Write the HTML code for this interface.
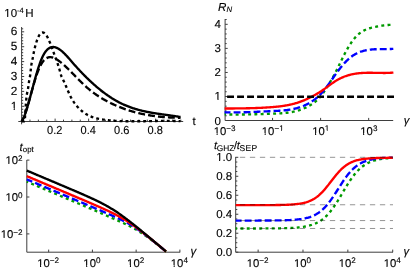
<!DOCTYPE html>
<html><head><meta charset="utf-8"><title>plots</title>
<style>
html,body{margin:0;padding:0;background:#fff;}
text{stroke:#000;stroke-width:0.12px;}
svg{display:block;font-family:"Liberation Sans",sans-serif;will-change:transform;text-rendering:geometricPrecision;}
</style></head>
<body>
<svg width="411" height="274" viewBox="0 0 411 274">
<rect width="411" height="274" fill="#fff"/>
<text x="17.30" y="109.70" font-size="11.8" text-anchor="end" fill="#000">1</text>
<text x="17.30" y="94.80" font-size="11.8" text-anchor="end" fill="#000">2</text>
<text x="17.30" y="79.90" font-size="11.8" text-anchor="end" fill="#000">3</text>
<text x="17.30" y="65.00" font-size="11.8" text-anchor="end" fill="#000">4</text>
<text x="17.30" y="50.10" font-size="11.8" text-anchor="end" fill="#000">5</text>
<text x="17.30" y="35.20" font-size="11.8" text-anchor="end" fill="#000">6</text>
<text transform="translate(54.72,134.40) scale(0.95,1)" font-size="11.6" text-anchor="middle" fill="#000">0.2</text>
<text transform="translate(88.24,134.40) scale(0.95,1)" font-size="11.6" text-anchor="middle" fill="#000">0.4</text>
<text transform="translate(121.76,134.40) scale(0.95,1)" font-size="11.6" text-anchor="middle" fill="#000">0.6</text>
<text transform="translate(155.28,134.40) scale(0.95,1)" font-size="11.6" text-anchor="middle" fill="#000">0.8</text>
<text x="192.60" y="125.20" font-size="11.5" text-anchor="start" fill="#000">t</text>
<text x="4.3" y="17.2" font-size="11.5" fill="#000">10<tspan font-size="7.6" dy="-4">-4</tspan><tspan dy="4" dx="1.4">H</tspan></text>
<text x="221.00" y="124.50" font-size="11.5" text-anchor="end" fill="#000">0</text>
<text x="221.00" y="100.43" font-size="11.5" text-anchor="end" fill="#000">1</text>
<text x="221.00" y="76.36" font-size="11.5" text-anchor="end" fill="#000">2</text>
<text x="221.00" y="52.29" font-size="11.5" text-anchor="end" fill="#000">3</text>
<text x="221.00" y="28.22" font-size="11.5" text-anchor="end" fill="#000">4</text>
<text x="224.70" y="134.80" font-size="11.3" text-anchor="middle" fill="#000">10<tspan font-size="8.14" dy="-3.6">−3</tspan></text>
<text x="272.76" y="134.80" font-size="11.3" text-anchor="middle" fill="#000">10<tspan font-size="8.14" dy="-3.6">−1</tspan></text>
<text x="320.82" y="134.80" font-size="11.3" text-anchor="middle" fill="#000">10<tspan font-size="8.14" dy="-3.6">1</tspan></text>
<text x="368.88" y="134.80" font-size="11.3" text-anchor="middle" fill="#000">10<tspan font-size="8.14" dy="-3.6">3</tspan></text>
<text x="218.0" y="10.6" font-size="11.6" font-style="italic" fill="#000">R<tspan font-size="7.8" dy="1.7">N</tspan></text>
<text x="403.80" y="123.60" font-size="11.3" text-anchor="start" font-style="italic" fill="#000">γ</text>
<text x="22.60" y="238.10" font-size="11.3" text-anchor="end" fill="#000">10<tspan font-size="8.14" dy="-3.6">−2</tspan></text>
<text x="22.60" y="201.20" font-size="11.3" text-anchor="end" fill="#000">10<tspan font-size="8.14" dy="-3.6">0</tspan></text>
<text x="22.60" y="164.30" font-size="11.3" text-anchor="end" fill="#000">10<tspan font-size="8.14" dy="-3.6">2</tspan></text>
<text x="48.17" y="266.80" font-size="11.3" text-anchor="middle" fill="#000">10<tspan font-size="8.14" dy="-3.6">−2</tspan></text>
<text x="91.91" y="266.80" font-size="11.3" text-anchor="middle" fill="#000">10<tspan font-size="8.14" dy="-3.6">0</tspan></text>
<text x="135.65" y="266.80" font-size="11.3" text-anchor="middle" fill="#000">10<tspan font-size="8.14" dy="-3.6">2</tspan></text>
<text x="179.39" y="266.80" font-size="11.3" text-anchor="middle" fill="#000">10<tspan font-size="8.14" dy="-3.6">4</tspan></text>
<text x="19.6" y="150.8" font-size="11.6" font-style="italic" fill="#000">t<tspan font-size="7.9" font-style="normal" dy="1.6">opt</tspan></text>
<text x="190.60" y="255.40" font-size="11.5" text-anchor="start" font-style="italic" fill="#000">γ</text>
<text x="257.63" y="267.00" font-size="11.3" text-anchor="middle" fill="#000">10<tspan font-size="8.14" dy="-3.6">−2</tspan></text>
<text x="302.49" y="267.00" font-size="11.3" text-anchor="middle" fill="#000">10<tspan font-size="8.14" dy="-3.6">0</tspan></text>
<text x="347.35" y="267.00" font-size="11.3" text-anchor="middle" fill="#000">10<tspan font-size="8.14" dy="-3.6">2</tspan></text>
<text x="392.21" y="267.00" font-size="11.3" text-anchor="middle" fill="#000">10<tspan font-size="8.14" dy="-3.6">4</tspan></text>
<text x="232.20" y="256.00" font-size="11.5" text-anchor="end" fill="#000">0.0</text>
<text x="232.20" y="237.02" font-size="11.5" text-anchor="end" fill="#000">0.2</text>
<text x="232.20" y="218.04" font-size="11.5" text-anchor="end" fill="#000">0.4</text>
<text x="232.20" y="199.06" font-size="11.5" text-anchor="end" fill="#000">0.6</text>
<text x="232.20" y="180.08" font-size="11.5" text-anchor="end" fill="#000">0.8</text>
<text x="232.20" y="161.10" font-size="11.5" text-anchor="end" fill="#000">1.0</text>
<text x="214" y="149.3" font-size="11" font-style="italic" fill="#000">t<tspan font-size="8.3" font-style="normal" dy="1.5" dx="-0.2">GHZ</tspan><tspan dy="-1.5" dx="-0.5" font-style="normal">/</tspan><tspan dx="-0.3">t</tspan><tspan font-size="8.5" font-style="normal" dy="1.5" dx="-0.3" letter-spacing="0.35">SEP</tspan></text>
<text x="403.60" y="255.30" font-size="11.3" text-anchor="start" font-style="italic" fill="#000">γ</text>
<rect x="11.00" y="108" width="2.63" height="2" fill="#fff"/>
<rect x="14.82" y="108" width="2.18" height="2" fill="#fff"/>
<rect x="5.00" y="16" width="2.12" height="2" fill="#fff"/>
<rect x="8.28" y="16" width="2.72" height="2" fill="#fff"/>
<rect x="215.00" y="99" width="2.43" height="2" fill="#fff"/>
<rect x="218.58" y="99" width="2.42" height="2" fill="#fff"/>
<rect x="214.00" y="133" width="2.55" height="2" fill="#fff"/>
<rect x="217.69" y="133" width="2.31" height="2" fill="#fff"/>
<rect x="262.00" y="133" width="2.61" height="2" fill="#fff"/>
<rect x="265.75" y="133" width="2.25" height="2" fill="#fff"/>
<rect x="279.00" y="130" width="2.16" height="2" fill="#fff"/>
<rect x="281.97" y="130" width="2.03" height="2" fill="#fff"/>
<rect x="312.00" y="133" width="3.05" height="2" fill="#fff"/>
<rect x="316.18" y="133" width="2.82" height="2" fill="#fff"/>
<rect x="325.00" y="130" width="1.84" height="2" fill="#fff"/>
<rect x="327.66" y="130" width="2.34" height="2" fill="#fff"/>
<rect x="361.00" y="133" width="2.11" height="2" fill="#fff"/>
<rect x="364.24" y="133" width="2.76" height="2" fill="#fff"/>
<rect x="1.00" y="237" width="2.53" height="2" fill="#fff"/>
<rect x="4.66" y="237" width="2.34" height="2" fill="#fff"/>
<rect x="6.00" y="200" width="2.28" height="2" fill="#fff"/>
<rect x="9.42" y="200" width="2.58" height="2" fill="#fff"/>
<rect x="6.00" y="163" width="2.28" height="2" fill="#fff"/>
<rect x="9.42" y="163" width="2.58" height="2" fill="#fff"/>
<rect x="37.00" y="265" width="3.02" height="2" fill="#fff"/>
<rect x="41.16" y="265" width="2.84" height="2" fill="#fff"/>
<rect x="84.00" y="265" width="2.14" height="2" fill="#fff"/>
<rect x="87.27" y="265" width="2.73" height="2" fill="#fff"/>
<rect x="127.00" y="265" width="2.88" height="2" fill="#fff"/>
<rect x="131.01" y="265" width="1.99" height="2" fill="#fff"/>
<rect x="171.00" y="265" width="2.62" height="2" fill="#fff"/>
<rect x="174.75" y="265" width="2.25" height="2" fill="#fff"/>
<rect x="247.00" y="266" width="2.48" height="2" fill="#fff"/>
<rect x="250.62" y="266" width="2.38" height="2" fill="#fff"/>
<rect x="294.00" y="266" width="2.72" height="2" fill="#fff"/>
<rect x="297.85" y="266" width="2.15" height="2" fill="#fff"/>
<rect x="339.00" y="266" width="2.58" height="2" fill="#fff"/>
<rect x="342.71" y="266" width="2.29" height="2" fill="#fff"/>
<rect x="384.00" y="266" width="2.44" height="2" fill="#fff"/>
<rect x="387.57" y="266" width="2.43" height="2" fill="#fff"/>
<rect x="216.00" y="160" width="3.04" height="2" fill="#fff"/>
<rect x="220.19" y="160" width="2.81" height="2" fill="#fff"/>
<line x1="18.30" y1="121.50" x2="183.20" y2="121.50" stroke="#3e3e3e" stroke-width="1"/>
<line x1="21.60" y1="27.00" x2="21.60" y2="124.30" stroke="#3e3e3e" stroke-width="1"/>
<line x1="29.98" y1="121.20" x2="29.98" y2="119.60" stroke="#3e3e3e" stroke-width="1"/>
<line x1="38.36" y1="121.20" x2="38.36" y2="119.60" stroke="#3e3e3e" stroke-width="1"/>
<line x1="46.74" y1="121.20" x2="46.74" y2="119.60" stroke="#3e3e3e" stroke-width="1"/>
<line x1="55.12" y1="121.20" x2="55.12" y2="118.60" stroke="#3e3e3e" stroke-width="1"/>
<line x1="63.50" y1="121.20" x2="63.50" y2="119.60" stroke="#3e3e3e" stroke-width="1"/>
<line x1="71.88" y1="121.20" x2="71.88" y2="119.60" stroke="#3e3e3e" stroke-width="1"/>
<line x1="80.26" y1="121.20" x2="80.26" y2="119.60" stroke="#3e3e3e" stroke-width="1"/>
<line x1="88.64" y1="121.20" x2="88.64" y2="118.60" stroke="#3e3e3e" stroke-width="1"/>
<line x1="97.02" y1="121.20" x2="97.02" y2="119.60" stroke="#3e3e3e" stroke-width="1"/>
<line x1="105.40" y1="121.20" x2="105.40" y2="119.60" stroke="#3e3e3e" stroke-width="1"/>
<line x1="113.78" y1="121.20" x2="113.78" y2="119.60" stroke="#3e3e3e" stroke-width="1"/>
<line x1="122.16" y1="121.20" x2="122.16" y2="118.60" stroke="#3e3e3e" stroke-width="1"/>
<line x1="130.54" y1="121.20" x2="130.54" y2="119.60" stroke="#3e3e3e" stroke-width="1"/>
<line x1="138.92" y1="121.20" x2="138.92" y2="119.60" stroke="#3e3e3e" stroke-width="1"/>
<line x1="147.30" y1="121.20" x2="147.30" y2="119.60" stroke="#3e3e3e" stroke-width="1"/>
<line x1="155.68" y1="121.20" x2="155.68" y2="118.60" stroke="#3e3e3e" stroke-width="1"/>
<line x1="164.06" y1="121.20" x2="164.06" y2="119.60" stroke="#3e3e3e" stroke-width="1"/>
<line x1="172.44" y1="121.20" x2="172.44" y2="119.60" stroke="#3e3e3e" stroke-width="1"/>
<line x1="180.82" y1="121.20" x2="180.82" y2="119.60" stroke="#3e3e3e" stroke-width="1"/>
<line x1="21.60" y1="118.22" x2="23.20" y2="118.22" stroke="#3e3e3e" stroke-width="1"/>
<line x1="21.60" y1="115.24" x2="23.20" y2="115.24" stroke="#3e3e3e" stroke-width="1"/>
<line x1="21.60" y1="112.26" x2="23.20" y2="112.26" stroke="#3e3e3e" stroke-width="1"/>
<line x1="21.60" y1="109.28" x2="23.20" y2="109.28" stroke="#3e3e3e" stroke-width="1"/>
<line x1="21.60" y1="106.30" x2="24.20" y2="106.30" stroke="#3e3e3e" stroke-width="1"/>
<line x1="21.60" y1="103.32" x2="23.20" y2="103.32" stroke="#3e3e3e" stroke-width="1"/>
<line x1="21.60" y1="100.34" x2="23.20" y2="100.34" stroke="#3e3e3e" stroke-width="1"/>
<line x1="21.60" y1="97.36" x2="23.20" y2="97.36" stroke="#3e3e3e" stroke-width="1"/>
<line x1="21.60" y1="94.38" x2="23.20" y2="94.38" stroke="#3e3e3e" stroke-width="1"/>
<line x1="21.60" y1="91.40" x2="24.20" y2="91.40" stroke="#3e3e3e" stroke-width="1"/>
<line x1="21.60" y1="88.42" x2="23.20" y2="88.42" stroke="#3e3e3e" stroke-width="1"/>
<line x1="21.60" y1="85.44" x2="23.20" y2="85.44" stroke="#3e3e3e" stroke-width="1"/>
<line x1="21.60" y1="82.46" x2="23.20" y2="82.46" stroke="#3e3e3e" stroke-width="1"/>
<line x1="21.60" y1="79.48" x2="23.20" y2="79.48" stroke="#3e3e3e" stroke-width="1"/>
<line x1="21.60" y1="76.50" x2="24.20" y2="76.50" stroke="#3e3e3e" stroke-width="1"/>
<line x1="21.60" y1="73.52" x2="23.20" y2="73.52" stroke="#3e3e3e" stroke-width="1"/>
<line x1="21.60" y1="70.54" x2="23.20" y2="70.54" stroke="#3e3e3e" stroke-width="1"/>
<line x1="21.60" y1="67.56" x2="23.20" y2="67.56" stroke="#3e3e3e" stroke-width="1"/>
<line x1="21.60" y1="64.58" x2="23.20" y2="64.58" stroke="#3e3e3e" stroke-width="1"/>
<line x1="21.60" y1="61.60" x2="24.20" y2="61.60" stroke="#3e3e3e" stroke-width="1"/>
<line x1="21.60" y1="58.62" x2="23.20" y2="58.62" stroke="#3e3e3e" stroke-width="1"/>
<line x1="21.60" y1="55.64" x2="23.20" y2="55.64" stroke="#3e3e3e" stroke-width="1"/>
<line x1="21.60" y1="52.66" x2="23.20" y2="52.66" stroke="#3e3e3e" stroke-width="1"/>
<line x1="21.60" y1="49.68" x2="23.20" y2="49.68" stroke="#3e3e3e" stroke-width="1"/>
<line x1="21.60" y1="46.70" x2="24.20" y2="46.70" stroke="#3e3e3e" stroke-width="1"/>
<line x1="21.60" y1="43.72" x2="23.20" y2="43.72" stroke="#3e3e3e" stroke-width="1"/>
<line x1="21.60" y1="40.74" x2="23.20" y2="40.74" stroke="#3e3e3e" stroke-width="1"/>
<line x1="21.60" y1="37.76" x2="23.20" y2="37.76" stroke="#3e3e3e" stroke-width="1"/>
<line x1="21.60" y1="34.78" x2="23.20" y2="34.78" stroke="#3e3e3e" stroke-width="1"/>
<line x1="21.60" y1="31.80" x2="24.20" y2="31.80" stroke="#3e3e3e" stroke-width="1"/>
<line x1="21.60" y1="28.82" x2="23.20" y2="28.82" stroke="#3e3e3e" stroke-width="1"/>
<path d="M21.60,121.20 L22.13,121.20 L22.66,121.20 L23.19,121.20 L23.73,121.20 L24.26,121.20 L24.79,120.82 L25.32,112.35 L25.85,104.37 L26.38,98.00 L26.91,94.08 L27.45,91.63 L27.98,88.93 L28.51,85.48 L29.04,81.55 L29.57,78.21 L30.10,75.84 L30.63,71.05 L31.17,66.15 L31.70,62.83 L32.23,60.37 L32.76,57.89 L33.29,55.05 L33.82,52.28 L34.35,49.84 L34.89,47.59 L35.42,45.51 L35.95,43.60 L36.48,41.85 L37.01,40.26 L37.54,38.83 L38.07,37.55 L38.61,36.43 L39.14,35.45 L39.67,34.61 L40.20,33.92 L40.73,33.37 L41.26,32.95 L41.79,32.67 L42.33,32.51 L42.86,32.49 L43.39,32.58 L43.92,32.80 L44.45,33.14 L44.98,33.59 L45.51,34.16 L46.05,34.83 L46.58,35.61 L47.11,36.49 L47.64,37.47 L48.17,38.54 L48.70,39.68 L49.23,40.90 L49.77,42.18 L50.30,43.52 L50.83,44.90 L51.36,46.32 L51.89,47.77 L52.42,49.23 L52.95,50.71 L53.49,52.19 L54.02,53.67 L54.55,55.13 L55.08,56.57 L55.61,58.01 L56.14,59.45 L56.67,60.91 L57.21,62.41 L57.74,63.96 L58.27,65.56 L58.80,67.24 L59.33,69.01 L59.86,70.88 L60.39,72.86 L60.93,74.79 L61.46,76.46 L61.99,77.69 L62.52,78.69 L63.05,79.72 L63.58,80.81 L64.12,81.95 L64.65,83.13 L65.18,84.34 L65.71,85.57 L66.24,86.82 L66.77,88.08 L67.30,89.34 L67.84,90.59 L68.37,91.82 L68.90,93.03 L69.43,94.20 L69.96,95.34 L70.49,96.42 L71.02,97.45 L71.56,98.43 L72.09,99.36 L72.62,100.25 L73.15,101.10 L73.68,101.91 L74.21,102.68 L74.74,103.41 L75.28,104.12 L75.81,104.79 L76.34,105.44 L76.87,106.07 L77.40,106.67 L77.93,107.26 L78.46,107.82 L79.00,108.37 L79.53,108.90 L80.06,109.41 L80.59,109.91 L81.12,110.38 L81.65,110.84 L82.18,111.29 L82.72,111.72 L83.25,112.13 L83.78,112.52 L84.31,112.91 L84.84,113.27 L85.37,113.63 L85.90,113.96 L86.44,114.29 L86.97,114.60 L87.50,114.90 L88.03,115.19 L88.56,115.46 L89.09,115.72 L89.62,115.98 L90.16,116.22 L90.69,116.44 L91.22,116.66 L91.75,116.87 L92.28,117.07 L92.81,117.26 L93.34,117.44 L93.88,117.61 L94.41,117.78 L94.94,117.93 L95.47,118.08 L96.00,118.22 L96.53,118.35 L97.06,118.48 L97.60,118.60 L98.13,118.72 L98.66,118.83 L99.19,118.93 L99.72,119.03 L100.25,119.12 L100.78,119.22 L101.32,119.30 L101.85,119.39 L102.38,119.47 L102.91,119.54 L103.44,119.62 L103.97,119.69 L104.50,119.77 L105.04,119.83 L105.57,119.90 L106.10,119.97 L106.63,120.03 L107.16,120.09 L107.69,120.15 L108.22,120.21 L108.76,120.27 L109.29,120.32 L109.82,120.38 L110.35,120.43 L110.88,120.48 L111.41,120.53 L111.94,120.57 L112.48,120.62 L113.01,120.66 L113.54,120.70 L114.07,120.74 L114.60,120.78 L115.13,120.82 L115.66,120.85 L116.20,120.89 L116.73,120.92 L117.26,120.95 L117.79,120.98 L118.32,121.01 L118.85,121.04 L119.38,121.06 L119.92,121.09 L120.45,121.11 L120.98,121.13 L121.51,121.15 L122.04,121.17 L122.57,121.19 L123.10,121.20 L123.64,121.20 L124.17,121.20 L124.70,121.20 L125.23,121.20 L125.76,121.20 L126.29,121.20 L126.82,121.20 L127.36,121.20 L127.89,121.20 L128.42,121.20 L128.95,121.20 L129.48,121.20 L130.01,121.20 L130.54,121.20 L131.08,121.20 L131.61,121.20 L132.14,121.20 L132.67,121.20 L133.20,121.20 L133.73,121.20 L134.26,121.20 L134.80,121.20 L135.33,121.20 L135.86,121.20 L136.39,121.20 L136.92,121.20 L137.45,121.20 L137.98,121.20 L138.52,121.20 L139.05,121.20 L139.58,121.20 L140.11,121.20 L140.64,121.20 L141.17,121.20 L141.71,121.20 L142.24,121.20 L142.77,121.20 L143.30,121.20 L143.83,121.20 L144.36,121.20 L144.89,121.20 L145.43,121.19 L145.96,121.18 L146.49,121.17 L147.02,121.16 L147.55,121.15 L148.08,121.14 L148.61,121.12 L149.15,121.11 L149.68,121.10 L150.21,121.09 L150.74,121.08 L151.27,121.07 L151.80,121.06 L152.33,121.05 L152.87,121.03 L153.40,121.02 L153.93,121.01 L154.46,121.00 L154.99,120.99 L155.52,120.98 L156.05,120.97 L156.59,120.96 L157.12,120.96 L157.65,120.95 L158.18,120.94 L158.71,120.93 L159.24,120.92 L159.77,120.92 L160.31,120.91 L160.84,120.90 L161.37,120.90 L161.90,120.89 L162.43,120.89 L162.96,120.88 L163.49,120.88 L164.03,120.88 L164.56,120.87 L165.09,120.87 L165.62,120.87 L166.15,120.87 L166.68,120.87 L167.21,120.87 L167.75,120.88 L168.28,120.88 L168.81,120.88 L169.34,120.89 L169.87,120.89 L170.40,120.90 L170.93,120.90 L171.47,120.91 L172.00,120.92 L172.53,120.93 L173.06,120.94 L173.59,120.96 L174.12,120.97 L174.65,120.98 L175.19,121.00 L175.72,121.01 L176.25,121.03 L176.78,121.05 L177.31,121.07 L177.84,121.09 L178.37,121.11 L178.91,121.14 L179.44,121.16 L179.97,121.19 L180.50,121.20" fill="none" stroke="#000" stroke-width="2.35" stroke-dasharray="2.9 3.0" stroke-dashoffset="0" stroke-linejoin="round"/>
<path d="M21.60,121.62 L22.24,120.58 L22.88,119.35 L23.51,117.96 L24.15,116.41 L24.79,114.73 L25.43,112.92 L26.07,110.99 L26.71,108.97 L27.34,106.87 L27.98,104.70 L28.62,102.47 L29.26,100.20 L29.90,97.90 L30.53,95.59 L31.17,93.28 L31.81,90.98 L32.45,88.70 L33.09,86.45 L33.72,84.24 L34.36,82.08 L35.00,79.98 L35.64,77.95 L36.28,76.01 L36.92,74.15 L37.55,72.39 L38.19,70.73 L38.83,69.16 L39.47,67.70 L40.11,66.34 L40.74,65.08 L41.38,63.93 L42.02,62.88 L42.66,61.94 L43.30,61.09 L43.94,60.33 L44.57,59.67 L45.21,59.09 L45.85,58.59 L46.49,58.18 L47.13,57.84 L47.76,57.57 L48.40,57.37 L49.04,57.24 L49.68,57.17 L50.32,57.15 L50.96,57.20 L51.59,57.29 L52.23,57.43 L52.87,57.61 L53.51,57.84 L54.15,58.10 L54.78,58.40 L55.42,58.72 L56.06,59.08 L56.70,59.45 L57.34,59.85 L57.97,60.27 L58.61,60.71 L59.25,61.17 L59.89,61.65 L60.53,62.14 L61.17,62.65 L61.80,63.17 L62.44,63.71 L63.08,64.26 L63.72,64.83 L64.36,65.40 L64.99,65.98 L65.63,66.58 L66.27,67.18 L66.91,67.79 L67.55,68.40 L68.19,69.02 L68.82,69.65 L69.46,70.28 L70.10,70.91 L70.74,71.55 L71.38,72.19 L72.01,72.84 L72.65,73.48 L73.29,74.13 L73.93,74.78 L74.57,75.43 L75.20,76.08 L75.84,76.73 L76.48,77.38 L77.12,78.03 L77.76,78.68 L78.40,79.32 L79.03,79.96 L79.67,80.60 L80.31,81.24 L80.95,81.87 L81.59,82.49 L82.22,83.11 L82.86,83.73 L83.50,84.34 L84.14,84.94 L84.78,85.53 L85.42,86.12 L86.05,86.70 L86.69,87.27 L87.33,87.83 L87.97,88.38 L88.61,88.92 L89.24,89.46 L89.88,89.98 L90.52,90.49 L91.16,91.00 L91.80,91.49 L92.43,91.98 L93.07,92.46 L93.71,92.93 L94.35,93.40 L94.99,93.85 L95.63,94.30 L96.26,94.74 L96.90,95.17 L97.54,95.60 L98.18,96.02 L98.82,96.43 L99.45,96.84 L100.09,97.24 L100.73,97.63 L101.37,98.02 L102.01,98.40 L102.65,98.78 L103.28,99.15 L103.92,99.51 L104.56,99.87 L105.20,100.22 L105.84,100.57 L106.47,100.92 L107.11,101.26 L107.75,101.60 L108.39,101.93 L109.03,102.26 L109.67,102.58 L110.30,102.90 L110.94,103.21 L111.58,103.52 L112.22,103.83 L112.86,104.13 L113.49,104.43 L114.13,104.72 L114.77,105.01 L115.41,105.30 L116.05,105.58 L116.68,105.86 L117.32,106.13 L117.96,106.40 L118.60,106.67 L119.24,106.93 L119.88,107.19 L120.51,107.44 L121.15,107.69 L121.79,107.94 L122.43,108.18 L123.07,108.42 L123.70,108.65 L124.34,108.88 L124.98,109.11 L125.62,109.33 L126.26,109.55 L126.90,109.77 L127.53,109.98 L128.17,110.19 L128.81,110.40 L129.45,110.60 L130.09,110.80 L130.72,111.00 L131.36,111.19 L132.00,111.38 L132.64,111.56 L133.28,111.74 L133.91,111.92 L134.55,112.10 L135.19,112.27 L135.83,112.44 L136.47,112.60 L137.11,112.77 L137.74,112.93 L138.38,113.08 L139.02,113.23 L139.66,113.38 L140.30,113.53 L140.93,113.67 L141.57,113.82 L142.21,113.95 L142.85,114.09 L143.49,114.22 L144.13,114.35 L144.76,114.48 L145.40,114.60 L146.04,114.72 L146.68,114.84 L147.32,114.95 L147.95,115.07 L148.59,115.18 L149.23,115.28 L149.87,115.39 L150.51,115.49 L151.14,115.59 L151.78,115.68 L152.42,115.78 L153.06,115.87 L153.70,115.96 L154.34,116.05 L154.97,116.13 L155.61,116.21 L156.25,116.29 L156.89,116.37 L157.53,116.44 L158.16,116.52 L158.80,116.59 L159.44,116.65 L160.08,116.72 L160.72,116.78 L161.36,116.85 L161.99,116.90 L162.63,116.96 L163.27,117.02 L163.91,117.07 L164.55,117.12 L165.18,117.17 L165.82,117.22 L166.46,117.26 L167.10,117.30 L167.74,117.35 L168.38,117.39 L169.01,117.42 L169.65,117.46 L170.29,117.49 L170.93,117.52 L171.57,117.55 L172.20,117.58 L172.84,117.61 L173.48,117.64 L174.12,117.66 L174.76,117.68 L175.39,117.70 L176.03,117.72 L176.67,117.74 L177.31,117.75 L177.95,117.77 L178.59,117.78 L179.22,117.79 L179.86,117.80 L180.50,117.81" fill="none" stroke="#000" stroke-width="2.35" stroke-dasharray="6.9 3.1" stroke-dashoffset="1.0" stroke-linejoin="round"/>
<path d="M21.60,121.37 L22.24,120.41 L22.88,119.26 L23.51,117.95 L24.15,116.48 L24.79,114.87 L25.43,113.12 L26.07,111.25 L26.71,109.28 L27.34,107.20 L27.98,105.04 L28.62,102.81 L29.26,100.52 L29.90,98.18 L30.53,95.81 L31.17,93.41 L31.81,91.00 L32.45,88.59 L33.09,86.19 L33.72,83.81 L34.36,81.47 L35.00,79.16 L35.64,76.89 L36.28,74.67 L36.92,72.51 L37.55,70.41 L38.19,68.37 L38.83,66.41 L39.47,64.53 L40.11,62.73 L40.74,61.03 L41.38,59.42 L42.02,57.91 L42.66,56.52 L43.30,55.24 L43.94,54.07 L44.57,53.02 L45.21,52.07 L45.85,51.22 L46.49,50.46 L47.13,49.79 L47.76,49.19 L48.40,48.68 L49.04,48.24 L49.68,47.87 L50.32,47.58 L50.96,47.34 L51.59,47.18 L52.23,47.07 L52.87,47.02 L53.51,47.03 L54.15,47.10 L54.78,47.21 L55.42,47.37 L56.06,47.58 L56.70,47.83 L57.34,48.13 L57.97,48.46 L58.61,48.83 L59.25,49.23 L59.89,49.67 L60.53,50.14 L61.17,50.64 L61.80,51.16 L62.44,51.72 L63.08,52.29 L63.72,52.89 L64.36,53.51 L64.99,54.15 L65.63,54.81 L66.27,55.49 L66.91,56.17 L67.55,56.88 L68.19,57.59 L68.82,58.31 L69.46,59.03 L70.10,59.76 L70.74,60.50 L71.38,61.24 L72.01,61.98 L72.65,62.71 L73.29,63.44 L73.93,64.17 L74.57,64.90 L75.20,65.61 L75.84,66.33 L76.48,67.04 L77.12,67.74 L77.76,68.44 L78.40,69.14 L79.03,69.82 L79.67,70.51 L80.31,71.19 L80.95,71.87 L81.59,72.54 L82.22,73.20 L82.86,73.86 L83.50,74.52 L84.14,75.17 L84.78,75.81 L85.42,76.45 L86.05,77.09 L86.69,77.72 L87.33,78.34 L87.97,78.96 L88.61,79.57 L89.24,80.18 L89.88,80.79 L90.52,81.38 L91.16,81.98 L91.80,82.57 L92.43,83.15 L93.07,83.72 L93.71,84.30 L94.35,84.86 L94.99,85.42 L95.63,85.98 L96.26,86.53 L96.90,87.07 L97.54,87.61 L98.18,88.14 L98.82,88.67 L99.45,89.19 L100.09,89.71 L100.73,90.22 L101.37,90.72 L102.01,91.22 L102.65,91.71 L103.28,92.20 L103.92,92.68 L104.56,93.16 L105.20,93.63 L105.84,94.09 L106.47,94.55 L107.11,95.00 L107.75,95.44 L108.39,95.88 L109.03,96.32 L109.67,96.75 L110.30,97.17 L110.94,97.58 L111.58,97.99 L112.22,98.40 L112.86,98.79 L113.49,99.18 L114.13,99.57 L114.77,99.95 L115.41,100.32 L116.05,100.69 L116.68,101.05 L117.32,101.40 L117.96,101.75 L118.60,102.09 L119.24,102.42 L119.88,102.75 L120.51,103.07 L121.15,103.39 L121.79,103.69 L122.43,104.00 L123.07,104.29 L123.70,104.58 L124.34,104.87 L124.98,105.15 L125.62,105.42 L126.26,105.68 L126.90,105.95 L127.53,106.20 L128.17,106.45 L128.81,106.70 L129.45,106.94 L130.09,107.17 L130.72,107.40 L131.36,107.63 L132.00,107.85 L132.64,108.06 L133.28,108.27 L133.91,108.48 L134.55,108.68 L135.19,108.87 L135.83,109.07 L136.47,109.25 L137.11,109.44 L137.74,109.62 L138.38,109.79 L139.02,109.97 L139.66,110.13 L140.30,110.30 L140.93,110.46 L141.57,110.62 L142.21,110.77 L142.85,110.92 L143.49,111.07 L144.13,111.21 L144.76,111.35 L145.40,111.49 L146.04,111.62 L146.68,111.76 L147.32,111.88 L147.95,112.01 L148.59,112.14 L149.23,112.26 L149.87,112.38 L150.51,112.49 L151.14,112.61 L151.78,112.72 L152.42,112.83 L153.06,112.94 L153.70,113.04 L154.34,113.15 L154.97,113.25 L155.61,113.35 L156.25,113.45 L156.89,113.55 L157.53,113.65 L158.16,113.75 L158.80,113.84 L159.44,113.93 L160.08,114.03 L160.72,114.12 L161.36,114.21 L161.99,114.30 L162.63,114.39 L163.27,114.48 L163.91,114.57 L164.55,114.66 L165.18,114.74 L165.82,114.83 L166.46,114.92 L167.10,115.01 L167.74,115.10 L168.38,115.18 L169.01,115.27 L169.65,115.36 L170.29,115.45 L170.93,115.54 L171.57,115.63 L172.20,115.72 L172.84,115.81 L173.48,115.91 L174.12,116.00 L174.76,116.10 L175.39,116.19 L176.03,116.29 L176.67,116.39 L177.31,116.49 L177.95,116.59 L178.59,116.69 L179.22,116.80 L179.86,116.91 L180.50,117.01" fill="none" stroke="#000" stroke-width="2.35" stroke-linejoin="round"/>
<line x1="225.10" y1="120.50" x2="393.20" y2="120.50" stroke="#3e3e3e" stroke-width="1"/>
<line x1="225.10" y1="19.00" x2="225.10" y2="120.50" stroke="#3e3e3e" stroke-width="1"/>
<line x1="225.10" y1="115.79" x2="226.70" y2="115.79" stroke="#3e3e3e" stroke-width="1"/>
<line x1="225.10" y1="110.97" x2="226.70" y2="110.97" stroke="#3e3e3e" stroke-width="1"/>
<line x1="225.10" y1="106.16" x2="226.70" y2="106.16" stroke="#3e3e3e" stroke-width="1"/>
<line x1="225.10" y1="101.34" x2="226.70" y2="101.34" stroke="#3e3e3e" stroke-width="1"/>
<line x1="225.10" y1="96.53" x2="227.70" y2="96.53" stroke="#3e3e3e" stroke-width="1"/>
<line x1="225.10" y1="91.72" x2="226.70" y2="91.72" stroke="#3e3e3e" stroke-width="1"/>
<line x1="225.10" y1="86.90" x2="226.70" y2="86.90" stroke="#3e3e3e" stroke-width="1"/>
<line x1="225.10" y1="82.09" x2="226.70" y2="82.09" stroke="#3e3e3e" stroke-width="1"/>
<line x1="225.10" y1="77.27" x2="226.70" y2="77.27" stroke="#3e3e3e" stroke-width="1"/>
<line x1="225.10" y1="72.46" x2="227.70" y2="72.46" stroke="#3e3e3e" stroke-width="1"/>
<line x1="225.10" y1="67.65" x2="226.70" y2="67.65" stroke="#3e3e3e" stroke-width="1"/>
<line x1="225.10" y1="62.83" x2="226.70" y2="62.83" stroke="#3e3e3e" stroke-width="1"/>
<line x1="225.10" y1="58.02" x2="226.70" y2="58.02" stroke="#3e3e3e" stroke-width="1"/>
<line x1="225.10" y1="53.20" x2="226.70" y2="53.20" stroke="#3e3e3e" stroke-width="1"/>
<line x1="225.10" y1="48.39" x2="227.70" y2="48.39" stroke="#3e3e3e" stroke-width="1"/>
<line x1="225.10" y1="43.58" x2="226.70" y2="43.58" stroke="#3e3e3e" stroke-width="1"/>
<line x1="225.10" y1="38.76" x2="226.70" y2="38.76" stroke="#3e3e3e" stroke-width="1"/>
<line x1="225.10" y1="33.95" x2="226.70" y2="33.95" stroke="#3e3e3e" stroke-width="1"/>
<line x1="225.10" y1="29.13" x2="226.70" y2="29.13" stroke="#3e3e3e" stroke-width="1"/>
<line x1="225.10" y1="24.32" x2="227.70" y2="24.32" stroke="#3e3e3e" stroke-width="1"/>
<line x1="225.10" y1="19.51" x2="226.70" y2="19.51" stroke="#3e3e3e" stroke-width="1"/>
<line x1="272.56" y1="120.50" x2="272.56" y2="117.90" stroke="#3e3e3e" stroke-width="1"/>
<line x1="320.62" y1="120.50" x2="320.62" y2="117.90" stroke="#3e3e3e" stroke-width="1"/>
<line x1="368.68" y1="120.50" x2="368.68" y2="117.90" stroke="#3e3e3e" stroke-width="1"/>
<path d="M224.60,114.36 L225.27,114.38 L225.95,114.40 L226.62,114.42 L227.30,114.44 L227.97,114.46 L228.65,114.47 L229.32,114.49 L230.00,114.50 L230.67,114.51 L231.35,114.52 L232.02,114.53 L232.70,114.53 L233.37,114.54 L234.05,114.55 L234.72,114.55 L235.40,114.55 L236.07,114.55 L236.74,114.55 L237.42,114.55 L238.09,114.55 L238.77,114.55 L239.44,114.55 L240.12,114.54 L240.79,114.54 L241.47,114.53 L242.14,114.52 L242.82,114.52 L243.49,114.51 L244.17,114.50 L244.84,114.49 L245.52,114.48 L246.19,114.47 L246.87,114.45 L247.54,114.44 L248.21,114.43 L248.89,114.41 L249.56,114.40 L250.24,114.38 L250.91,114.36 L251.59,114.35 L252.26,114.33 L252.94,114.31 L253.61,114.29 L254.29,114.28 L254.96,114.26 L255.64,114.24 L256.31,114.22 L256.99,114.20 L257.66,114.18 L258.33,114.15 L259.01,114.13 L259.68,114.11 L260.36,114.09 L261.03,114.07 L261.71,114.05 L262.38,114.02 L263.06,114.00 L263.73,113.98 L264.41,113.96 L265.08,113.93 L265.76,113.91 L266.43,113.89 L267.11,113.86 L267.78,113.84 L268.46,113.82 L269.13,113.79 L269.80,113.77 L270.48,113.75 L271.15,113.73 L271.83,113.70 L272.50,113.68 L273.18,113.66 L273.85,113.64 L274.53,113.61 L275.20,113.59 L275.88,113.56 L276.55,113.53 L277.23,113.50 L277.90,113.47 L278.58,113.44 L279.25,113.40 L279.93,113.37 L280.60,113.33 L281.27,113.28 L281.95,113.23 L282.62,113.18 L283.30,113.13 L283.97,113.07 L284.65,113.01 L285.32,112.94 L286.00,112.87 L286.67,112.79 L287.35,112.71 L288.02,112.62 L288.70,112.53 L289.37,112.43 L290.05,112.32 L290.72,112.21 L291.40,112.09 L292.07,111.97 L292.74,111.84 L293.42,111.70 L294.09,111.55 L294.77,111.40 L295.44,111.23 L296.12,111.06 L296.79,110.88 L297.47,110.69 L298.14,110.50 L298.82,110.29 L299.49,110.08 L300.17,109.85 L300.84,109.61 L301.52,109.37 L302.19,109.11 L302.87,108.85 L303.54,108.57 L304.21,108.28 L304.89,107.98 L305.56,107.67 L306.24,107.35 L306.91,107.01 L307.59,106.66 L308.26,106.30 L308.94,105.93 L309.61,105.54 L310.29,105.14 L310.96,104.73 L311.64,104.30 L312.31,103.86 L312.99,103.40 L313.66,102.91 L314.33,102.41 L315.01,101.88 L315.68,101.32 L316.36,100.74 L317.03,100.13 L317.71,99.49 L318.38,98.82 L319.06,98.11 L319.73,97.37 L320.41,96.59 L321.08,95.77 L321.76,94.91 L322.43,94.00 L323.11,93.06 L323.78,92.08 L324.46,91.06 L325.13,90.03 L325.80,88.97 L326.48,87.90 L327.15,86.83 L327.83,85.75 L328.50,84.67 L329.18,83.58 L329.85,82.48 L330.53,81.36 L331.20,80.23 L331.88,79.07 L332.55,77.90 L333.23,76.69 L333.90,75.46 L334.58,74.20 L335.25,72.91 L335.93,71.59 L336.60,70.25 L337.27,68.88 L337.95,67.51 L338.62,66.12 L339.30,64.72 L339.97,63.33 L340.65,61.93 L341.32,60.54 L342.00,59.17 L342.67,57.80 L343.35,56.46 L344.02,55.13 L344.70,53.83 L345.37,52.54 L346.05,51.29 L346.72,50.05 L347.40,48.85 L348.07,47.68 L348.74,46.53 L349.42,45.42 L350.09,44.34 L350.77,43.30 L351.44,42.30 L352.12,41.34 L352.79,40.41 L353.47,39.53 L354.14,38.69 L354.82,37.90 L355.49,37.14 L356.17,36.42 L356.84,35.74 L357.52,35.09 L358.19,34.48 L358.87,33.91 L359.54,33.36 L360.21,32.85 L360.89,32.37 L361.56,31.91 L362.24,31.49 L362.91,31.09 L363.59,30.71 L364.26,30.36 L364.94,30.03 L365.61,29.72 L366.29,29.43 L366.96,29.16 L367.64,28.91 L368.31,28.68 L368.99,28.45 L369.66,28.25 L370.33,28.05 L371.01,27.87 L371.68,27.69 L372.36,27.53 L373.03,27.37 L373.71,27.22 L374.38,27.07 L375.06,26.93 L375.73,26.79 L376.41,26.65 L377.08,26.52 L377.76,26.38 L378.43,26.26 L379.11,26.13 L379.78,26.01 L380.46,25.90 L381.13,25.79 L381.80,25.68 L382.48,25.58 L383.15,25.49 L383.83,25.40 L384.50,25.32 L385.18,25.24 L385.85,25.17 L386.53,25.11 L387.20,25.06 L387.88,25.01 L388.55,24.97 L389.23,24.94 L389.90,24.91 L390.58,24.90 L391.25,24.89 L391.93,24.90 L392.60,24.91" fill="none" stroke="#009a00" stroke-width="2.35" stroke-dasharray="2.95 3.3" stroke-dashoffset="1.45" stroke-linejoin="round"/>
<path d="M224.60,112.25 L225.28,112.28 L225.96,112.30 L226.63,112.32 L227.31,112.34 L227.99,112.35 L228.67,112.37 L229.34,112.38 L230.02,112.39 L230.70,112.40 L231.38,112.41 L232.05,112.41 L232.73,112.42 L233.41,112.42 L234.09,112.42 L234.76,112.42 L235.44,112.42 L236.12,112.42 L236.80,112.41 L237.47,112.40 L238.15,112.40 L238.83,112.39 L239.51,112.38 L240.18,112.37 L240.86,112.35 L241.54,112.34 L242.22,112.33 L242.89,112.31 L243.57,112.29 L244.25,112.28 L244.93,112.26 L245.60,112.24 L246.28,112.22 L246.96,112.20 L247.64,112.17 L248.31,112.15 L248.99,112.13 L249.67,112.10 L250.35,112.08 L251.02,112.05 L251.70,112.02 L252.38,111.99 L253.06,111.97 L253.73,111.94 L254.41,111.91 L255.09,111.88 L255.77,111.85 L256.44,111.82 L257.12,111.79 L257.80,111.76 L258.48,111.73 L259.15,111.70 L259.83,111.66 L260.51,111.63 L261.19,111.60 L261.86,111.57 L262.54,111.54 L263.22,111.50 L263.90,111.47 L264.57,111.44 L265.25,111.41 L265.93,111.37 L266.61,111.34 L267.28,111.31 L267.96,111.28 L268.64,111.25 L269.32,111.22 L269.99,111.19 L270.67,111.16 L271.35,111.13 L272.03,111.10 L272.70,111.07 L273.38,111.04 L274.06,111.01 L274.74,110.98 L275.41,110.94 L276.09,110.91 L276.77,110.88 L277.45,110.84 L278.12,110.81 L278.80,110.77 L279.48,110.73 L280.16,110.68 L280.83,110.64 L281.51,110.59 L282.19,110.54 L282.87,110.48 L283.54,110.42 L284.22,110.36 L284.90,110.29 L285.58,110.22 L286.25,110.14 L286.93,110.06 L287.61,109.97 L288.29,109.88 L288.96,109.78 L289.64,109.68 L290.32,109.57 L291.00,109.45 L291.67,109.33 L292.35,109.20 L293.03,109.06 L293.71,108.92 L294.38,108.77 L295.06,108.61 L295.74,108.44 L296.42,108.27 L297.09,108.08 L297.77,107.89 L298.45,107.69 L299.13,107.48 L299.80,107.26 L300.48,107.02 L301.16,106.78 L301.84,106.53 L302.51,106.27 L303.19,106.00 L303.87,105.72 L304.55,105.42 L305.22,105.12 L305.90,104.80 L306.58,104.47 L307.26,104.13 L307.93,103.78 L308.61,103.41 L309.29,103.03 L309.97,102.63 L310.64,102.22 L311.32,101.79 L312.00,101.35 L312.68,100.89 L313.35,100.42 L314.03,99.92 L314.71,99.41 L315.39,98.89 L316.06,98.34 L316.74,97.77 L317.42,97.18 L318.10,96.58 L318.77,95.95 L319.45,95.30 L320.13,94.63 L320.81,93.94 L321.48,93.22 L322.16,92.48 L322.84,91.72 L323.52,90.93 L324.19,90.12 L324.87,89.28 L325.55,88.42 L326.23,87.54 L326.90,86.64 L327.58,85.71 L328.26,84.78 L328.94,83.83 L329.61,82.87 L330.29,81.90 L330.97,80.93 L331.65,79.95 L332.32,78.97 L333.00,77.99 L333.68,77.02 L334.36,76.05 L335.03,75.09 L335.71,74.14 L336.39,73.20 L337.07,72.28 L337.74,71.36 L338.42,70.46 L339.10,69.58 L339.78,68.71 L340.45,67.85 L341.13,67.01 L341.81,66.19 L342.49,65.38 L343.16,64.59 L343.84,63.82 L344.52,63.07 L345.20,62.34 L345.87,61.63 L346.55,60.94 L347.23,60.27 L347.91,59.63 L348.58,59.01 L349.26,58.41 L349.94,57.83 L350.62,57.29 L351.29,56.76 L351.97,56.26 L352.65,55.79 L353.33,55.34 L354.00,54.92 L354.68,54.51 L355.36,54.13 L356.04,53.77 L356.71,53.43 L357.39,53.10 L358.07,52.80 L358.75,52.51 L359.42,52.23 L360.10,51.97 L360.78,51.73 L361.46,51.50 L362.13,51.28 L362.81,51.08 L363.49,50.89 L364.17,50.71 L364.84,50.55 L365.52,50.40 L366.20,50.25 L366.88,50.12 L367.55,50.01 L368.23,49.90 L368.91,49.80 L369.59,49.71 L370.26,49.62 L370.94,49.55 L371.62,49.48 L372.30,49.43 L372.97,49.37 L373.65,49.33 L374.33,49.29 L375.01,49.26 L375.68,49.23 L376.36,49.21 L377.04,49.19 L377.72,49.17 L378.39,49.16 L379.07,49.15 L379.75,49.14 L380.43,49.14 L381.10,49.14 L381.78,49.13 L382.46,49.13 L383.14,49.13 L383.81,49.13 L384.49,49.13 L385.17,49.13 L385.85,49.12 L386.52,49.12 L387.20,49.11 L387.88,49.10 L388.56,49.08 L389.23,49.06 L389.91,49.04 L390.59,49.01 L391.27,48.98 L391.94,48.94 L392.62,48.90 L393.30,48.85" fill="none" stroke="#0000ff" stroke-width="2.35" stroke-dasharray="6.9 3.1" stroke-dashoffset="1.0" stroke-linejoin="round"/>
<path d="M224.60,108.50 L225.28,108.50 L225.96,108.50 L226.63,108.49 L227.31,108.49 L227.99,108.49 L228.67,108.48 L229.35,108.48 L230.02,108.48 L230.70,108.47 L231.38,108.47 L232.06,108.46 L232.73,108.46 L233.41,108.46 L234.09,108.45 L234.77,108.45 L235.45,108.44 L236.12,108.43 L236.80,108.43 L237.48,108.42 L238.16,108.41 L238.84,108.41 L239.51,108.40 L240.19,108.39 L240.87,108.38 L241.55,108.37 L242.23,108.36 L242.90,108.35 L243.58,108.34 L244.26,108.33 L244.94,108.32 L245.62,108.31 L246.29,108.29 L246.97,108.28 L247.65,108.27 L248.33,108.25 L249.00,108.24 L249.68,108.22 L250.36,108.20 L251.04,108.18 L251.72,108.16 L252.39,108.14 L253.07,108.12 L253.75,108.10 L254.43,108.08 L255.11,108.06 L255.78,108.03 L256.46,108.01 L257.14,107.98 L257.82,107.95 L258.50,107.92 L259.17,107.90 L259.85,107.87 L260.53,107.83 L261.21,107.80 L261.89,107.77 L262.56,107.73 L263.24,107.70 L263.92,107.66 L264.60,107.62 L265.27,107.58 L265.95,107.54 L266.63,107.50 L267.31,107.45 L267.99,107.41 L268.66,107.36 L269.34,107.32 L270.02,107.27 L270.70,107.22 L271.38,107.17 L272.05,107.11 L272.73,107.06 L273.41,107.00 L274.09,106.94 L274.77,106.88 L275.44,106.82 L276.12,106.76 L276.80,106.69 L277.48,106.62 L278.16,106.55 L278.83,106.47 L279.51,106.39 L280.19,106.31 L280.87,106.23 L281.54,106.14 L282.22,106.04 L282.90,105.95 L283.58,105.85 L284.26,105.75 L284.93,105.64 L285.61,105.53 L286.29,105.41 L286.97,105.29 L287.65,105.16 L288.32,105.03 L289.00,104.90 L289.68,104.76 L290.36,104.61 L291.04,104.46 L291.71,104.30 L292.39,104.14 L293.07,103.97 L293.75,103.79 L294.42,103.61 L295.10,103.42 L295.78,103.23 L296.46,103.03 L297.14,102.82 L297.81,102.61 L298.49,102.39 L299.17,102.16 L299.85,101.92 L300.53,101.68 L301.20,101.43 L301.88,101.17 L302.56,100.91 L303.24,100.64 L303.92,100.36 L304.59,100.07 L305.27,99.78 L305.95,99.48 L306.63,99.17 L307.31,98.86 L307.98,98.54 L308.66,98.22 L309.34,97.89 L310.02,97.55 L310.69,97.21 L311.37,96.86 L312.05,96.51 L312.73,96.15 L313.41,95.78 L314.08,95.41 L314.76,95.04 L315.44,94.66 L316.12,94.27 L316.80,93.88 L317.47,93.48 L318.15,93.08 L318.83,92.67 L319.51,92.25 L320.19,91.83 L320.86,91.40 L321.54,90.96 L322.22,90.51 L322.90,90.06 L323.58,89.59 L324.25,89.12 L324.93,88.64 L325.61,88.15 L326.29,87.66 L326.96,87.16 L327.64,86.65 L328.32,86.15 L329.00,85.64 L329.68,85.13 L330.35,84.63 L331.03,84.13 L331.71,83.64 L332.39,83.15 L333.07,82.67 L333.74,82.21 L334.42,81.75 L335.10,81.31 L335.78,80.88 L336.46,80.46 L337.13,80.06 L337.81,79.68 L338.49,79.30 L339.17,78.94 L339.84,78.60 L340.52,78.26 L341.20,77.94 L341.88,77.63 L342.56,77.34 L343.23,77.05 L343.91,76.78 L344.59,76.52 L345.27,76.26 L345.95,76.03 L346.62,75.80 L347.30,75.58 L347.98,75.37 L348.66,75.17 L349.34,74.99 L350.01,74.81 L350.69,74.64 L351.37,74.48 L352.05,74.33 L352.73,74.19 L353.40,74.05 L354.08,73.93 L354.76,73.81 L355.44,73.70 L356.11,73.60 L356.79,73.50 L357.47,73.41 L358.15,73.33 L358.83,73.26 L359.50,73.19 L360.18,73.13 L360.86,73.07 L361.54,73.02 L362.22,72.98 L362.89,72.94 L363.57,72.90 L364.25,72.87 L364.93,72.85 L365.61,72.83 L366.28,72.81 L366.96,72.79 L367.64,72.78 L368.32,72.78 L369.00,72.77 L369.67,72.77 L370.35,72.77 L371.03,72.78 L371.71,72.78 L372.38,72.79 L373.06,72.80 L373.74,72.81 L374.42,72.82 L375.10,72.83 L375.77,72.84 L376.45,72.86 L377.13,72.87 L377.81,72.88 L378.49,72.89 L379.16,72.91 L379.84,72.92 L380.52,72.93 L381.20,72.94 L381.88,72.94 L382.55,72.95 L383.23,72.95 L383.91,72.95 L384.59,72.95 L385.27,72.95 L385.94,72.94 L386.62,72.93 L387.30,72.91 L387.98,72.90 L388.65,72.88 L389.33,72.85 L390.01,72.82 L390.69,72.78 L391.37,72.74 L392.04,72.70 L392.72,72.65 L393.40,72.59" fill="none" stroke="#ff0000" stroke-width="2.35" stroke-linejoin="round"/>
<line x1="224.6" y1="96.7" x2="394" y2="96.7" stroke="#000" stroke-width="2.35" stroke-dasharray="6.9 3.1" stroke-dashoffset="7.5"/>
<line x1="26.80" y1="252.20" x2="180.20" y2="252.20" stroke="#3e3e3e" stroke-width="1"/>
<line x1="26.80" y1="160.00" x2="26.80" y2="252.20" stroke="#3e3e3e" stroke-width="1"/>
<line x1="48.67" y1="252.20" x2="48.67" y2="249.60" stroke="#3e3e3e" stroke-width="1"/>
<line x1="92.41" y1="252.20" x2="92.41" y2="249.60" stroke="#3e3e3e" stroke-width="1"/>
<line x1="136.15" y1="252.20" x2="136.15" y2="249.60" stroke="#3e3e3e" stroke-width="1"/>
<line x1="179.89" y1="252.20" x2="179.89" y2="249.60" stroke="#3e3e3e" stroke-width="1"/>
<line x1="26.80" y1="233.90" x2="29.40" y2="233.90" stroke="#3e3e3e" stroke-width="1"/>
<line x1="26.80" y1="197.00" x2="29.40" y2="197.00" stroke="#3e3e3e" stroke-width="1"/>
<line x1="26.80" y1="160.10" x2="29.40" y2="160.10" stroke="#3e3e3e" stroke-width="1"/>
<path d="M26.80,181.70 L27.57,182.02 L28.34,182.35 L29.11,182.67 L29.88,183.00 L30.65,183.32 L31.42,183.64 L32.19,183.97 L32.95,184.29 L33.72,184.62 L34.49,184.94 L35.26,185.27 L36.03,185.59 L36.80,185.92 L37.57,186.24 L38.34,186.57 L39.11,186.89 L39.88,187.21 L40.65,187.54 L41.42,187.86 L42.19,188.19 L42.96,188.51 L43.72,188.84 L44.49,189.16 L45.26,189.49 L46.03,189.81 L46.80,190.14 L47.57,190.46 L48.34,190.78 L49.11,191.11 L49.88,191.43 L50.65,191.76 L51.42,192.08 L52.19,192.41 L52.96,192.73 L53.73,193.06 L54.49,193.38 L55.26,193.71 L56.03,194.03 L56.80,194.36 L57.57,194.68 L58.34,195.00 L59.11,195.33 L59.88,195.65 L60.65,195.98 L61.42,196.30 L62.19,196.63 L62.96,196.95 L63.73,197.28 L64.50,197.60 L65.26,197.93 L66.03,198.25 L66.80,198.58 L67.57,198.90 L68.34,199.23 L69.11,199.55 L69.88,199.88 L70.65,200.20 L71.42,200.53 L72.19,200.85 L72.96,201.18 L73.73,201.51 L74.50,201.83 L75.27,202.16 L76.03,202.48 L76.80,202.81 L77.57,203.13 L78.34,203.46 L79.11,203.79 L79.88,204.11 L80.65,204.44 L81.42,204.77 L82.19,205.09 L82.96,205.42 L83.73,205.75 L84.50,206.08 L85.27,206.40 L86.04,206.73 L86.81,207.06 L87.57,207.39 L88.34,207.72 L89.11,208.05 L89.88,208.38 L90.65,208.71 L91.42,209.04 L92.19,209.37 L92.96,209.70 L93.73,210.03 L94.50,210.36 L95.27,210.69 L96.04,211.02 L96.81,211.36 L97.58,211.69 L98.34,212.03 L99.11,212.36 L99.88,212.70 L100.65,213.03 L101.42,213.37 L102.19,213.70 L102.96,214.04 L103.73,214.38 L104.50,214.72 L105.27,215.05 L106.04,215.39 L106.81,215.73 L107.58,216.07 L108.35,216.41 L109.11,216.75 L109.88,217.09 L110.65,217.43 L111.42,217.77 L112.19,218.11 L112.96,218.45 L113.73,218.79 L114.50,219.13 L115.27,219.47 L116.04,219.81 L116.81,220.15 L117.58,220.49 L118.35,220.83 L119.12,221.18 L119.88,221.52 L120.65,221.86 L121.42,222.21 L122.19,222.56 L122.96,222.91 L123.73,223.26 L124.50,223.62 L125.27,223.97 L126.04,224.34 L126.81,224.70 L127.58,225.07 L128.35,225.45 L129.12,225.83 L129.89,226.22 L130.66,226.61 L131.42,227.01 L132.19,227.41 L132.96,227.83 L133.73,228.25 L134.50,228.67 L135.27,229.11 L136.04,229.55 L136.81,230.01 L137.58,230.47 L138.35,230.93 L139.12,231.41 L139.89,231.89 L140.66,232.39 L141.43,232.89 L142.19,233.39 L142.96,233.91 L143.73,234.43 L144.50,234.96 L145.27,235.50 L146.04,236.04 L146.81,236.59 L147.58,237.14 L148.35,237.70 L149.12,238.27 L149.89,238.84 L150.66,239.42 L151.43,240.00 L152.20,240.59 L152.96,241.18 L153.73,241.77 L154.50,242.37 L155.27,242.97 L156.04,243.58 L156.81,244.18 L157.58,244.79 L158.35,245.41 L159.12,246.02 L159.89,246.64 L160.66,247.26 L161.43,247.89 L162.20,248.51 L162.97,249.14 L163.73,249.77 L164.50,250.40 L165.27,251.03 L166.04,251.66" fill="none" stroke="#009a00" stroke-width="2.35" stroke-dasharray="2.95 3.3" stroke-dashoffset="1.45" stroke-linejoin="round"/>
<path d="M26.80,179.39 L27.57,179.72 L28.34,180.04 L29.11,180.37 L29.88,180.69 L30.65,181.02 L31.42,181.34 L32.19,181.66 L32.95,181.99 L33.72,182.31 L34.49,182.64 L35.26,182.96 L36.03,183.29 L36.80,183.61 L37.57,183.94 L38.34,184.26 L39.11,184.58 L39.88,184.91 L40.65,185.23 L41.42,185.56 L42.19,185.88 L42.96,186.21 L43.72,186.53 L44.49,186.86 L45.26,187.18 L46.03,187.51 L46.80,187.83 L47.57,188.15 L48.34,188.48 L49.11,188.80 L49.88,189.13 L50.65,189.45 L51.42,189.78 L52.19,190.10 L52.96,190.43 L53.73,190.75 L54.49,191.08 L55.26,191.40 L56.03,191.72 L56.80,192.05 L57.57,192.37 L58.34,192.70 L59.11,193.02 L59.88,193.35 L60.65,193.67 L61.42,194.00 L62.19,194.32 L62.96,194.65 L63.73,194.97 L64.50,195.29 L65.26,195.62 L66.03,195.94 L66.80,196.27 L67.57,196.59 L68.34,196.92 L69.11,197.24 L69.88,197.57 L70.65,197.89 L71.42,198.22 L72.19,198.54 L72.96,198.87 L73.73,199.19 L74.50,199.52 L75.27,199.84 L76.03,200.17 L76.80,200.49 L77.57,200.82 L78.34,201.14 L79.11,201.47 L79.88,201.79 L80.65,202.12 L81.42,202.44 L82.19,202.77 L82.96,203.09 L83.73,203.42 L84.50,203.75 L85.27,204.07 L86.04,204.40 L86.81,204.72 L87.57,205.05 L88.34,205.37 L89.11,205.70 L89.88,206.03 L90.65,206.35 L91.42,206.68 L92.19,207.01 L92.96,207.33 L93.73,207.66 L94.50,207.99 L95.27,208.32 L96.04,208.64 L96.81,208.97 L97.58,209.30 L98.34,209.63 L99.11,209.96 L99.88,210.29 L100.65,210.62 L101.42,210.95 L102.19,211.28 L102.96,211.61 L103.73,211.94 L104.50,212.27 L105.27,212.60 L106.04,212.93 L106.81,213.27 L107.58,213.60 L108.35,213.93 L109.11,214.27 L109.88,214.61 L110.65,214.94 L111.42,215.28 L112.19,215.62 L112.96,215.96 L113.73,216.30 L114.50,216.65 L115.27,217.00 L116.04,217.35 L116.81,217.70 L117.58,218.05 L118.35,218.41 L119.12,218.77 L119.88,219.14 L120.65,219.51 L121.42,219.88 L122.19,220.26 L122.96,220.65 L123.73,221.04 L124.50,221.43 L125.27,221.84 L126.04,222.24 L126.81,222.66 L127.58,223.08 L128.35,223.51 L129.12,223.95 L129.89,224.40 L130.66,224.85 L131.42,225.31 L132.19,225.78 L132.96,226.25 L133.73,226.74 L134.50,227.23 L135.27,227.73 L136.04,228.24 L136.81,228.75 L137.58,229.27 L138.35,229.80 L139.12,230.33 L139.89,230.88 L140.66,231.42 L141.43,231.98 L142.19,232.54 L142.96,233.10 L143.73,233.67 L144.50,234.25 L145.27,234.83 L146.04,235.41 L146.81,236.00 L147.58,236.60 L148.35,237.19 L149.12,237.79 L149.89,238.40 L150.66,239.01 L151.43,239.62 L152.20,240.23 L152.96,240.84 L153.73,241.46 L154.50,242.08 L155.27,242.70 L156.04,243.33 L156.81,243.95 L157.58,244.58 L158.35,245.21 L159.12,245.84 L159.89,246.47 L160.66,247.11 L161.43,247.74 L162.20,248.38 L162.97,249.01 L163.73,249.65 L164.50,250.29 L165.27,250.93 L166.04,251.57" fill="none" stroke="#0000ff" stroke-width="2.35" stroke-dasharray="6.9 3.1" stroke-dashoffset="1.0" stroke-linejoin="round"/>
<path d="M26.80,176.14 L27.57,176.47 L28.34,176.79 L29.11,177.12 L29.88,177.44 L30.65,177.77 L31.42,178.09 L32.19,178.42 L32.95,178.74 L33.72,179.06 L34.49,179.39 L35.26,179.71 L36.03,180.04 L36.80,180.36 L37.57,180.69 L38.34,181.01 L39.11,181.34 L39.88,181.66 L40.65,181.98 L41.42,182.31 L42.19,182.63 L42.96,182.96 L43.72,183.28 L44.49,183.61 L45.26,183.93 L46.03,184.26 L46.80,184.58 L47.57,184.91 L48.34,185.23 L49.11,185.56 L49.88,185.88 L50.65,186.20 L51.42,186.53 L52.19,186.85 L52.96,187.18 L53.73,187.50 L54.49,187.83 L55.26,188.15 L56.03,188.48 L56.80,188.80 L57.57,189.13 L58.34,189.45 L59.11,189.78 L59.88,190.10 L60.65,190.42 L61.42,190.75 L62.19,191.07 L62.96,191.40 L63.73,191.72 L64.50,192.05 L65.26,192.37 L66.03,192.70 L66.80,193.02 L67.57,193.35 L68.34,193.67 L69.11,194.00 L69.88,194.32 L70.65,194.65 L71.42,194.98 L72.19,195.30 L72.96,195.63 L73.73,195.95 L74.50,196.28 L75.27,196.60 L76.03,196.93 L76.80,197.25 L77.57,197.58 L78.34,197.91 L79.11,198.23 L79.88,198.56 L80.65,198.89 L81.42,199.21 L82.19,199.54 L82.96,199.87 L83.73,200.20 L84.50,200.52 L85.27,200.85 L86.04,201.18 L86.81,201.51 L87.57,201.84 L88.34,202.17 L89.11,202.50 L89.88,202.83 L90.65,203.16 L91.42,203.49 L92.19,203.82 L92.96,204.15 L93.73,204.49 L94.50,204.82 L95.27,205.15 L96.04,205.49 L96.81,205.82 L97.58,206.16 L98.34,206.50 L99.11,206.84 L99.88,207.18 L100.65,207.52 L101.42,207.86 L102.19,208.21 L102.96,208.55 L103.73,208.90 L104.50,209.25 L105.27,209.60 L106.04,209.95 L106.81,210.31 L107.58,210.66 L108.35,211.02 L109.11,211.39 L109.88,211.75 L110.65,212.12 L111.42,212.49 L112.19,212.87 L112.96,213.25 L113.73,213.63 L114.50,214.02 L115.27,214.41 L116.04,214.81 L116.81,215.21 L117.58,215.62 L118.35,216.03 L119.12,216.45 L119.88,216.88 L120.65,217.31 L121.42,217.74 L122.19,218.19 L122.96,218.64 L123.73,219.09 L124.50,219.56 L125.27,220.03 L126.04,220.51 L126.81,220.99 L127.58,221.48 L128.35,221.98 L129.12,222.49 L129.89,223.00 L130.66,223.52 L131.42,224.05 L132.19,224.58 L132.96,225.12 L133.73,225.66 L134.50,226.22 L135.27,226.77 L136.04,227.33 L136.81,227.90 L137.58,228.47 L138.35,229.05 L139.12,229.63 L139.89,230.22 L140.66,230.81 L141.43,231.40 L142.19,232.00 L142.96,232.60 L143.73,233.21 L144.50,233.81 L145.27,234.42 L146.04,235.04 L146.81,235.65 L147.58,236.27 L148.35,236.89 L149.12,237.51 L149.89,238.14 L150.66,238.76 L151.43,239.39 L152.20,240.02 L152.96,240.65 L153.73,241.28 L154.50,241.92 L155.27,242.55 L156.04,243.19 L156.81,243.82 L157.58,244.46 L158.35,245.10 L159.12,245.74 L159.89,246.38 L160.66,247.02 L161.43,247.66 L162.20,248.30 L162.97,248.94 L163.73,249.59 L164.50,250.23 L165.27,250.87 L166.04,251.52" fill="none" stroke="#ff0000" stroke-width="2.35" stroke-linejoin="round"/>
<path d="M26.80,170.59 L27.57,170.91 L28.34,171.24 L29.11,171.56 L29.88,171.89 L30.65,172.21 L31.42,172.54 L32.19,172.86 L32.95,173.19 L33.72,173.51 L34.49,173.84 L35.26,174.16 L36.03,174.48 L36.80,174.81 L37.57,175.13 L38.34,175.46 L39.11,175.78 L39.88,176.11 L40.65,176.43 L41.42,176.76 L42.19,177.08 L42.96,177.41 L43.72,177.73 L44.49,178.06 L45.26,178.38 L46.03,178.71 L46.80,179.03 L47.57,179.35 L48.34,179.68 L49.11,180.00 L49.88,180.33 L50.65,180.65 L51.42,180.98 L52.19,181.30 L52.96,181.63 L53.73,181.95 L54.49,182.28 L55.26,182.60 L56.03,182.93 L56.80,183.26 L57.57,183.58 L58.34,183.91 L59.11,184.23 L59.88,184.56 L60.65,184.88 L61.42,185.21 L62.19,185.53 L62.96,185.86 L63.73,186.19 L64.50,186.51 L65.26,186.84 L66.03,187.17 L66.80,187.49 L67.57,187.82 L68.34,188.15 L69.11,188.47 L69.88,188.80 L70.65,189.13 L71.42,189.46 L72.19,189.79 L72.96,190.11 L73.73,190.44 L74.50,190.77 L75.27,191.10 L76.03,191.43 L76.80,191.76 L77.57,192.10 L78.34,192.43 L79.11,192.76 L79.88,193.09 L80.65,193.43 L81.42,193.76 L82.19,194.10 L82.96,194.43 L83.73,194.77 L84.50,195.11 L85.27,195.45 L86.04,195.79 L86.81,196.13 L87.57,196.48 L88.34,196.82 L89.11,197.17 L89.88,197.52 L90.65,197.87 L91.42,198.22 L92.19,198.57 L92.96,198.93 L93.73,199.29 L94.50,199.65 L95.27,200.01 L96.04,200.38 L96.81,200.75 L97.58,201.13 L98.34,201.50 L99.11,201.88 L99.88,202.27 L100.65,202.66 L101.42,203.05 L102.19,203.45 L102.96,203.85 L103.73,204.26 L104.50,204.67 L105.27,205.09 L106.04,205.51 L106.81,205.94 L107.58,206.37 L108.35,206.81 L109.11,207.26 L109.88,207.71 L110.65,208.17 L111.42,208.64 L112.19,209.11 L112.96,209.59 L113.73,210.07 L114.50,210.56 L115.27,211.06 L116.04,211.57 L116.81,212.08 L117.58,212.59 L118.35,213.12 L119.12,213.65 L119.88,214.18 L120.65,214.72 L121.42,215.27 L122.19,215.83 L122.96,216.38 L123.73,216.95 L124.50,217.52 L125.27,218.09 L126.04,218.67 L126.81,219.25 L127.58,219.84 L128.35,220.43 L129.12,221.02 L129.89,221.62 L130.66,222.22 L131.42,222.83 L132.19,223.43 L132.96,224.04 L133.73,224.66 L134.50,225.27 L135.27,225.89 L136.04,226.51 L136.81,227.13 L137.58,227.76 L138.35,228.38 L139.12,229.01 L139.89,229.64 L140.66,230.27 L141.43,230.90 L142.19,231.53 L142.96,232.17 L143.73,232.80 L144.50,233.44 L145.27,234.08 L146.04,234.72 L146.81,235.36 L147.58,236.00 L148.35,236.64 L149.12,237.28 L149.89,237.92 L150.66,238.56 L151.43,239.20 L152.20,239.85 L152.96,240.49 L153.73,241.14 L154.50,241.78 L155.27,242.43 L156.04,243.07 L156.81,243.72 L157.58,244.36 L158.35,245.01 L159.12,245.65 L159.89,246.30 L160.66,246.95 L161.43,247.59 L162.20,248.24 L162.97,248.89 L163.73,249.54 L164.50,250.18 L165.27,250.83 L166.04,251.48" fill="none" stroke="#000" stroke-width="2.35" stroke-linejoin="round"/>
<line x1="235.70" y1="252.20" x2="393.00" y2="252.20" stroke="#3e3e3e" stroke-width="1"/>
<line x1="235.70" y1="156.90" x2="235.70" y2="252.20" stroke="#3e3e3e" stroke-width="1"/>
<line x1="235.70" y1="252.20" x2="238.30" y2="252.20" stroke="#3e3e3e" stroke-width="1"/>
<line x1="235.70" y1="247.45" x2="237.30" y2="247.45" stroke="#3e3e3e" stroke-width="1"/>
<line x1="235.70" y1="242.71" x2="237.30" y2="242.71" stroke="#3e3e3e" stroke-width="1"/>
<line x1="235.70" y1="237.96" x2="237.30" y2="237.96" stroke="#3e3e3e" stroke-width="1"/>
<line x1="235.70" y1="233.22" x2="238.30" y2="233.22" stroke="#3e3e3e" stroke-width="1"/>
<line x1="235.70" y1="228.47" x2="237.30" y2="228.47" stroke="#3e3e3e" stroke-width="1"/>
<line x1="235.70" y1="223.73" x2="237.30" y2="223.73" stroke="#3e3e3e" stroke-width="1"/>
<line x1="235.70" y1="218.98" x2="237.30" y2="218.98" stroke="#3e3e3e" stroke-width="1"/>
<line x1="235.70" y1="214.24" x2="238.30" y2="214.24" stroke="#3e3e3e" stroke-width="1"/>
<line x1="235.70" y1="209.49" x2="237.30" y2="209.49" stroke="#3e3e3e" stroke-width="1"/>
<line x1="235.70" y1="204.75" x2="237.30" y2="204.75" stroke="#3e3e3e" stroke-width="1"/>
<line x1="235.70" y1="200.00" x2="237.30" y2="200.00" stroke="#3e3e3e" stroke-width="1"/>
<line x1="235.70" y1="195.26" x2="238.30" y2="195.26" stroke="#3e3e3e" stroke-width="1"/>
<line x1="235.70" y1="190.51" x2="237.30" y2="190.51" stroke="#3e3e3e" stroke-width="1"/>
<line x1="235.70" y1="185.77" x2="237.30" y2="185.77" stroke="#3e3e3e" stroke-width="1"/>
<line x1="235.70" y1="181.02" x2="237.30" y2="181.02" stroke="#3e3e3e" stroke-width="1"/>
<line x1="235.70" y1="176.28" x2="238.30" y2="176.28" stroke="#3e3e3e" stroke-width="1"/>
<line x1="235.70" y1="171.53" x2="237.30" y2="171.53" stroke="#3e3e3e" stroke-width="1"/>
<line x1="235.70" y1="166.79" x2="237.30" y2="166.79" stroke="#3e3e3e" stroke-width="1"/>
<line x1="235.70" y1="162.04" x2="237.30" y2="162.04" stroke="#3e3e3e" stroke-width="1"/>
<line x1="235.70" y1="157.30" x2="238.30" y2="157.30" stroke="#3e3e3e" stroke-width="1"/>
<line x1="258.13" y1="252.20" x2="258.13" y2="249.60" stroke="#3e3e3e" stroke-width="1"/>
<line x1="302.99" y1="252.20" x2="302.99" y2="249.60" stroke="#3e3e3e" stroke-width="1"/>
<line x1="347.85" y1="252.20" x2="347.85" y2="249.60" stroke="#3e3e3e" stroke-width="1"/>
<line x1="392.71" y1="252.20" x2="392.71" y2="249.60" stroke="#3e3e3e" stroke-width="1"/>
<path d="M235.70,228.47 L236.49,228.47 L237.28,228.47 L238.07,228.47 L238.86,228.47 L239.64,228.47 L240.43,228.47 L241.22,228.47 L242.01,228.47 L242.80,228.47 L243.59,228.47 L244.38,228.47 L245.17,228.47 L245.96,228.47 L246.75,228.47 L247.53,228.47 L248.32,228.47 L249.11,228.47 L249.90,228.46 L250.69,228.46 L251.48,228.46 L252.27,228.46 L253.06,228.46 L253.85,228.46 L254.64,228.46 L255.42,228.46 L256.21,228.46 L257.00,228.45 L257.79,228.45 L258.58,228.45 L259.37,228.45 L260.16,228.45 L260.95,228.45 L261.74,228.44 L262.53,228.44 L263.31,228.44 L264.10,228.44 L264.89,228.43 L265.68,228.43 L266.47,228.43 L267.26,228.42 L268.05,228.42 L268.84,228.41 L269.63,228.41 L270.42,228.40 L271.20,228.40 L271.99,228.39 L272.78,228.38 L273.57,228.38 L274.36,228.37 L275.15,228.36 L275.94,228.35 L276.73,228.34 L277.52,228.33 L278.31,228.32 L279.09,228.31 L279.88,228.30 L280.67,228.28 L281.46,228.27 L282.25,228.25 L283.04,228.23 L283.83,228.21 L284.62,228.19 L285.41,228.17 L286.20,228.15 L286.98,228.12 L287.77,228.10 L288.56,228.07 L289.35,228.04 L290.14,228.00 L290.93,227.96 L291.72,227.92 L292.51,227.88 L293.30,227.84 L294.09,227.79 L294.87,227.73 L295.66,227.68 L296.45,227.61 L297.24,227.55 L298.03,227.47 L298.82,227.40 L299.61,227.31 L300.40,227.23 L301.19,227.13 L301.98,227.03 L302.76,226.92 L303.55,226.80 L304.34,226.67 L305.13,226.53 L305.92,226.38 L306.71,226.22 L307.50,226.05 L308.29,225.87 L309.08,225.67 L309.87,225.46 L310.65,225.24 L311.44,225.00 L312.23,224.74 L313.02,224.46 L313.81,224.17 L314.60,223.85 L315.39,223.52 L316.18,223.16 L316.97,222.77 L317.76,222.37 L318.54,221.93 L319.33,221.47 L320.12,220.98 L320.91,220.46 L321.70,219.91 L322.49,219.32 L323.28,218.70 L324.07,218.05 L324.86,217.36 L325.65,216.63 L326.43,215.87 L327.22,215.07 L328.01,214.23 L328.80,213.35 L329.59,212.43 L330.38,211.48 L331.17,210.48 L331.96,209.45 L332.75,208.38 L333.54,207.28 L334.32,206.14 L335.11,204.96 L335.90,203.76 L336.69,202.53 L337.48,201.28 L338.27,200.00 L339.06,198.70 L339.85,197.39 L340.64,196.06 L341.43,194.73 L342.21,193.39 L343.00,192.05 L343.79,190.71 L344.58,189.37 L345.37,188.05 L346.16,186.74 L346.95,185.45 L347.74,184.18 L348.53,182.93 L349.32,181.70 L350.10,180.51 L350.89,179.35 L351.68,178.21 L352.47,177.12 L353.26,176.06 L354.05,175.04 L354.84,174.05 L355.63,173.10 L356.42,172.20 L357.21,171.33 L357.99,170.50 L358.78,169.71 L359.57,168.95 L360.36,168.24 L361.15,167.56 L361.94,166.91 L362.73,166.30 L363.52,165.73 L364.31,165.18 L365.10,164.67 L365.88,164.18 L366.67,163.73 L367.46,163.30 L368.25,162.90 L369.04,162.52 L369.83,162.17 L370.62,161.84 L371.41,161.53 L372.20,161.24 L372.99,160.97 L373.77,160.71 L374.56,160.48 L375.35,160.26 L376.14,160.05 L376.93,159.86 L377.72,159.68 L378.51,159.51 L379.30,159.35 L380.09,159.21 L380.88,159.07 L381.66,158.95 L382.45,158.83 L383.24,158.72 L384.03,158.62 L384.82,158.53 L385.61,158.44 L386.40,158.36 L387.19,158.28 L387.98,158.21 L388.77,158.15 L389.55,158.08 L390.34,158.03 L391.13,157.98 L391.92,157.93 L392.71,157.88" fill="none" stroke="#009a00" stroke-width="2.35" stroke-dasharray="2.95 3.3" stroke-dashoffset="1.45" stroke-linejoin="round"/>
<path d="M235.70,220.56 L236.49,220.56 L237.28,220.56 L238.07,220.56 L238.86,220.56 L239.64,220.56 L240.43,220.56 L241.22,220.56 L242.01,220.56 L242.80,220.56 L243.59,220.56 L244.38,220.56 L245.17,220.56 L245.96,220.56 L246.75,220.56 L247.53,220.56 L248.32,220.56 L249.11,220.56 L249.90,220.56 L250.69,220.56 L251.48,220.56 L252.27,220.55 L253.06,220.55 L253.85,220.55 L254.64,220.55 L255.42,220.55 L256.21,220.55 L257.00,220.55 L257.79,220.55 L258.58,220.54 L259.37,220.54 L260.16,220.54 L260.95,220.54 L261.74,220.54 L262.53,220.53 L263.31,220.53 L264.10,220.53 L264.89,220.53 L265.68,220.52 L266.47,220.52 L267.26,220.51 L268.05,220.51 L268.84,220.51 L269.63,220.50 L270.42,220.49 L271.20,220.49 L271.99,220.48 L272.78,220.48 L273.57,220.47 L274.36,220.46 L275.15,220.45 L275.94,220.44 L276.73,220.43 L277.52,220.42 L278.31,220.41 L279.09,220.40 L279.88,220.38 L280.67,220.37 L281.46,220.35 L282.25,220.33 L283.04,220.31 L283.83,220.29 L284.62,220.27 L285.41,220.25 L286.20,220.22 L286.98,220.19 L287.77,220.16 L288.56,220.13 L289.35,220.09 L290.14,220.05 L290.93,220.01 L291.72,219.97 L292.51,219.92 L293.30,219.86 L294.09,219.81 L294.87,219.75 L295.66,219.68 L296.45,219.61 L297.24,219.53 L298.03,219.45 L298.82,219.36 L299.61,219.26 L300.40,219.15 L301.19,219.04 L301.98,218.92 L302.76,218.79 L303.55,218.65 L304.34,218.49 L305.13,218.33 L305.92,218.15 L306.71,217.96 L307.50,217.76 L308.29,217.54 L309.08,217.30 L309.87,217.05 L310.65,216.77 L311.44,216.48 L312.23,216.17 L313.02,215.84 L313.81,215.48 L314.60,215.10 L315.39,214.69 L316.18,214.26 L316.97,213.79 L317.76,213.30 L318.54,212.78 L319.33,212.22 L320.12,211.63 L320.91,211.01 L321.70,210.35 L322.49,209.65 L323.28,208.92 L324.07,208.15 L324.86,207.35 L325.65,206.50 L326.43,205.62 L327.22,204.70 L328.01,203.74 L328.80,202.75 L329.59,201.72 L330.38,200.66 L331.17,199.57 L331.96,198.44 L332.75,197.30 L333.54,196.12 L334.32,194.93 L335.11,193.71 L335.90,192.49 L336.69,191.25 L337.48,190.00 L338.27,188.76 L339.06,187.51 L339.85,186.26 L340.64,185.03 L341.43,183.80 L342.21,182.60 L343.00,181.41 L343.79,180.24 L344.58,179.10 L345.37,177.99 L346.16,176.90 L346.95,175.85 L347.74,174.83 L348.53,173.85 L349.32,172.90 L350.10,171.99 L350.89,171.12 L351.68,170.29 L352.47,169.49 L353.26,168.73 L354.05,168.01 L354.84,167.33 L355.63,166.68 L356.42,166.06 L357.21,165.48 L357.99,164.94 L358.78,164.42 L359.57,163.94 L360.36,163.48 L361.15,163.06 L361.94,162.66 L362.73,162.28 L363.52,161.93 L364.31,161.60 L365.10,161.30 L365.88,161.01 L366.67,160.75 L367.46,160.50 L368.25,160.27 L369.04,160.05 L369.83,159.85 L370.62,159.66 L371.41,159.49 L372.20,159.33 L372.99,159.18 L373.77,159.04 L374.56,158.91 L375.35,158.79 L376.14,158.68 L376.93,158.58 L377.72,158.48 L378.51,158.40 L379.30,158.31 L380.09,158.24 L380.88,158.17 L381.66,158.10 L382.45,158.04 L383.24,157.99 L384.03,157.93 L384.82,157.89 L385.61,157.84 L386.40,157.80 L387.19,157.76 L387.98,157.73 L388.77,157.70 L389.55,157.67 L390.34,157.64 L391.13,157.61 L391.92,157.59 L392.71,157.57" fill="none" stroke="#0000ff" stroke-width="2.35" stroke-dasharray="6.9 3.1" stroke-dashoffset="1.0" stroke-linejoin="round"/>
<path d="M235.70,205.15 L236.49,205.15 L237.28,205.15 L238.07,205.15 L238.86,205.15 L239.64,205.15 L240.43,205.15 L241.22,205.15 L242.01,205.15 L242.80,205.15 L243.59,205.15 L244.38,205.15 L245.17,205.15 L245.96,205.15 L246.75,205.15 L247.53,205.15 L248.32,205.14 L249.11,205.14 L249.90,205.14 L250.69,205.14 L251.48,205.14 L252.27,205.14 L253.06,205.14 L253.85,205.14 L254.64,205.14 L255.42,205.14 L256.21,205.14 L257.00,205.14 L257.79,205.13 L258.58,205.13 L259.37,205.13 L260.16,205.13 L260.95,205.13 L261.74,205.13 L262.53,205.12 L263.31,205.12 L264.10,205.12 L264.89,205.12 L265.68,205.11 L266.47,205.11 L267.26,205.11 L268.05,205.10 L268.84,205.10 L269.63,205.09 L270.42,205.09 L271.20,205.08 L271.99,205.08 L272.78,205.07 L273.57,205.06 L274.36,205.06 L275.15,205.05 L275.94,205.04 L276.73,205.03 L277.52,205.02 L278.31,205.01 L279.09,204.99 L279.88,204.98 L280.67,204.96 L281.46,204.95 L282.25,204.93 L283.04,204.91 L283.83,204.89 L284.62,204.86 L285.41,204.84 L286.20,204.81 L286.98,204.78 L287.77,204.75 L288.56,204.71 L289.35,204.67 L290.14,204.63 L290.93,204.58 L291.72,204.53 L292.51,204.47 L293.30,204.41 L294.09,204.35 L294.87,204.28 L295.66,204.20 L296.45,204.11 L297.24,204.02 L298.03,203.92 L298.82,203.81 L299.61,203.70 L300.40,203.57 L301.19,203.43 L301.98,203.28 L302.76,203.12 L303.55,202.95 L304.34,202.76 L305.13,202.55 L305.92,202.33 L306.71,202.09 L307.50,201.83 L308.29,201.56 L309.08,201.26 L309.87,200.94 L310.65,200.59 L311.44,200.22 L312.23,199.83 L313.02,199.40 L313.81,198.95 L314.60,198.47 L315.39,197.96 L316.18,197.41 L316.97,196.83 L317.76,196.22 L318.54,195.58 L319.33,194.90 L320.12,194.18 L320.91,193.43 L321.70,192.65 L322.49,191.84 L323.28,190.99 L324.07,190.12 L324.86,189.21 L325.65,188.28 L326.43,187.33 L327.22,186.36 L328.01,185.36 L328.80,184.36 L329.59,183.34 L330.38,182.32 L331.17,181.29 L331.96,180.26 L332.75,179.24 L333.54,178.22 L334.32,177.22 L335.11,176.23 L335.90,175.27 L336.69,174.32 L337.48,173.39 L338.27,172.50 L339.06,171.63 L339.85,170.79 L340.64,169.99 L341.43,169.21 L342.21,168.48 L343.00,167.77 L343.79,167.10 L344.58,166.46 L345.37,165.86 L346.16,165.29 L346.95,164.76 L347.74,164.25 L348.53,163.78 L349.32,163.33 L350.10,162.92 L350.89,162.53 L351.68,162.16 L352.47,161.83 L353.26,161.51 L354.05,161.22 L354.84,160.95 L355.63,160.69 L356.42,160.46 L357.21,160.24 L357.99,160.04 L358.78,159.86 L359.57,159.68 L360.36,159.53 L361.15,159.38 L361.94,159.25 L362.73,159.12 L363.52,159.01 L364.31,158.90 L365.10,158.80 L365.88,158.71 L366.67,158.63 L367.46,158.56 L368.25,158.49 L369.04,158.42 L369.83,158.36 L370.62,158.31 L371.41,158.26 L372.20,158.21 L372.99,158.17 L373.77,158.13 L374.56,158.10 L375.35,158.06 L376.14,158.03 L376.93,158.01 L377.72,157.98 L378.51,157.96 L379.30,157.94 L380.09,157.92 L380.88,157.90 L381.66,157.88 L382.45,157.87 L383.24,157.85 L384.03,157.84 L384.82,157.83 L385.61,157.82 L386.40,157.81 L387.19,157.80 L387.98,157.79 L388.77,157.78 L389.55,157.78 L390.34,157.77 L391.13,157.76 L391.92,157.76 L392.71,157.75" fill="none" stroke="#ff0000" stroke-width="2.35" stroke-linejoin="round"/>
<line x1="235.70" y1="157.30" x2="393" y2="157.30" stroke="#000" stroke-opacity="0.42" stroke-width="1" stroke-dasharray="5.3 4.7" stroke-dashoffset="5.80"/>
<line x1="235.70" y1="204.75" x2="393" y2="204.75" stroke="#000" stroke-opacity="0.42" stroke-width="1" stroke-dasharray="5.3 4.7" stroke-dashoffset="5.80"/>
<line x1="235.70" y1="220.57" x2="393" y2="220.57" stroke="#000" stroke-opacity="0.42" stroke-width="1" stroke-dasharray="5.3 4.7" stroke-dashoffset="5.80"/>
<line x1="235.70" y1="228.47" x2="393" y2="228.47" stroke="#000" stroke-opacity="0.42" stroke-width="1" stroke-dasharray="5.3 4.7" stroke-dashoffset="5.80"/>
</svg>
</body></html>
